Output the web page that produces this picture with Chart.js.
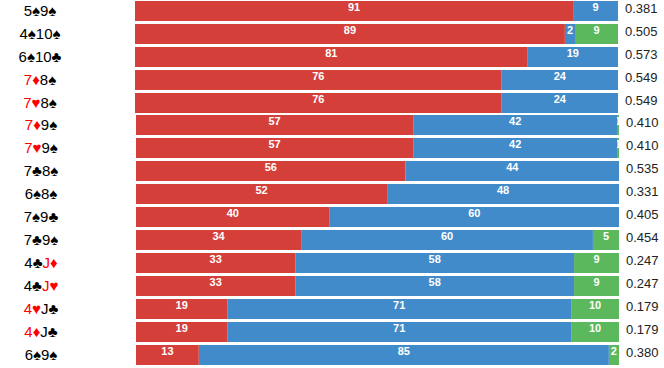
<!DOCTYPE html>
<html><head><meta charset="utf-8">
<style>html,body{margin:0;padding:0;background:#fff;overflow:hidden}
canvas{position:absolute;left:0}</style>
<script src="https://cdn.jsdelivr.net/npm/chart.js@4"></script></head>
<body>
<div style="position:absolute;left:0;top:-1px;width:664px;height:116px"><canvas id="top"></canvas></div>
<div style="position:absolute;left:0;top:113px;width:664px;height:254px"><canvas id="bottom"></canvas></div>
<script>
const hands = [
 [["5","s"],["9","s"]],[["4","s"],["10","s"]],[["6","s"],["10","c"]],[["7","d"],["8","s"]],[["7","h"],["8","s"]],
 [["7","d"],["9","s"]],[["7","h"],["9","s"]],[["7","c"],["8","s"]],[["6","s"],["8","s"]],[["7","s"],["9","c"]],
 [["7","c"],["9","s"]],[["4","c"],["J","d"]],[["4","c"],["J","h"]],[["4","h"],["J","c"]],[["4","d"],["J","c"]],[["6","s"],["9","s"]]];
const raise = [90.7,89.0,81.3,75.9,75.9,57.4,57.4,55.8,52.0,40.1,34.2,33.0,33.0,18.9,18.9,13.0];
const call  = [9.3,2.1,18.7,24.1,24.1,42.2,42.2,44.2,48.0,59.9,60.4,57.7,57.7,71.2,71.2,84.9];
const fold  = [0,8.9,0,0,0,0.4,0.4,0,0,0,5.4,9.3,9.3,9.9,9.9,2.1];
const equity = ["0.381","0.505","0.573","0.549","0.549","0.410","0.410","0.535","0.331","0.405","0.454","0.247","0.247","0.179","0.179","0.380"];
const suitGlyph = {s:"\u2660",h:"\u2665",d:"\u2666",c:"\u2663"};
const RED="#d43f3a", BLUE="#428bca", GREEN="#5cb85c";
const FONT="'Liberation Sans',Arial,sans-serif";

const paint = {
 id:"paint",
 beforeDraw(c){ c.ctx.save(); c.ctx.fillStyle="#fff"; c.ctx.fillRect(0,0,c.width,c.height); c.ctx.restore(); },
 afterDraw(c){
  const {ctx,scales:{y}} = c, off = c.options.rowOffset;
  ctx.save(); ctx.textBaseline="middle";
  c.data.datasets.forEach((ds,di)=>{
    const m=c.getDatasetMeta(di);
    m.data.forEach((b,i)=>{
      const v=ds.data[i]; if(v<=0) return;
      const t=String(Math.round(v)||1);
      ctx.save();
      ctx.beginPath();
      const l=Math.min(b.base,b.x), w=Math.abs(b.x-b.base);
      ctx.rect(l,b.y-b.height/2,w,b.height); ctx.clip();
      ctx.font="bold 11px "+FONT;
      ctx.fillStyle="#fff"; ctx.textAlign="center";
      ctx.fillText(t,l+w/2,b.y-3);
      ctx.restore();
    });
  });
  for(let i=0;i<y.ticks.length;i++){
    const py=y.getPixelForValue(i), h=hands[i+off];
    const segs=[];
    h.forEach(([r,s])=>{const col=(s==="h"||s==="d")?"#f00":"#000";
      segs.push([r+suitGlyph[s],col]);});
    ctx.font="15px "+FONT;
    let W=0; segs.forEach(g=>{W+=ctx.measureText(g[0]).width;});
    let px=c.options.handX-W/2; ctx.textAlign="left";
    segs.forEach(g=>{ctx.fillStyle=g[1];ctx.fillText(g[0],px,py+1);px+=ctx.measureText(g[0]).width;});
    ctx.font="13px "+FONT; ctx.fillStyle="#222";
    ctx.fillText(equity[i+off],c.options.eqX,py-2);
  }
  ctx.restore();
 }
};
function make(id,from,to,left,right,eqX,handX){
 const lab=hands.slice(from,to).map(h=>h.map(p=>p[0]+suitGlyph[p[1]]).join(""));
 const cv=document.getElementById(id);
 cv.getContext("2d",{alpha:false});
 new Chart(cv,{
  type:"bar",
  data:{labels:lab,datasets:[
   {label:"raise",data:raise.slice(from,to),backgroundColor:RED},
   {label:"call",data:call.slice(from,to),backgroundColor:BLUE},
   {label:"fold",data:fold.slice(from,to),backgroundColor:GREEN}]},
  options:{indexAxis:"y",responsive:true,maintainAspectRatio:false,animation:false,
   rowOffset:from,eqX,handX,
   layout:{padding:{left,right,top:0.5,bottom:0.5}},
   plugins:{legend:{display:false},tooltip:{enabled:false}},
   datasets:{bar:{categoryPercentage:1,barPercentage:20/23,borderWidth:0}},
   scales:{
    x:{stacked:true,min:0,max:100,display:false},
    y:{stacked:true,display:false,grid:{display:false}}}
  },
  plugins:[paint]});
}
make("top",0,5,135,46,625,40);
make("bottom",5,16,136,45,626,41);
</script></body></html>
